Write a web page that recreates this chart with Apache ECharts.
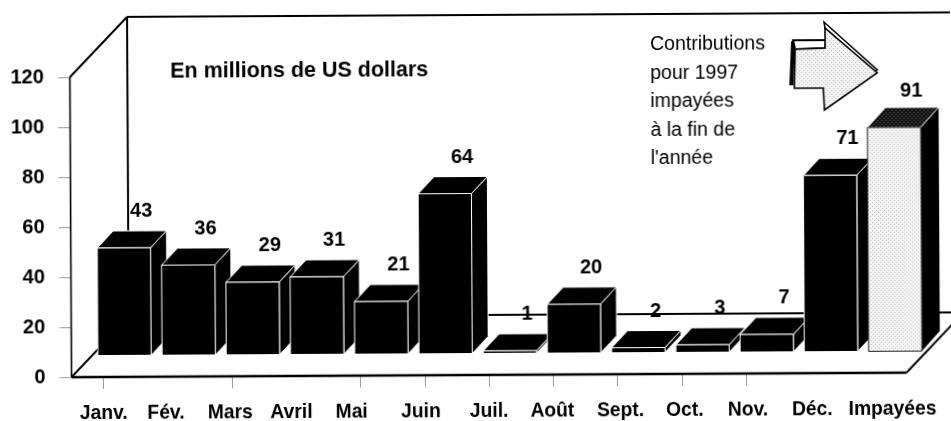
<!DOCTYPE html>
<html><head><meta charset="utf-8">
<style>html,body{margin:0;padding:0;background:#fff;overflow:hidden}
#c{width:951px;height:421px;transform:rotate(-0.31deg);transform-origin:475px 210px}</style>
<script src="https://cdn.jsdelivr.net/npm/echarts@6/dist/echarts.min.js"></script>
</head><body><div id="c"></div>
<script>
const categories=['Janv.','Fév.','Mars','Avril','Mai','Juin','Juil.','Août','Sept.','Oct.','Nov.','Déc.','Impayées'];
const valueLabels=[43,36,29,31,21,64,1,20,2,3,7,71,91];
const barHeights=[43,36,29,31,21,64,1,19.5,2,3,7,70.5,89.5];
const yTicks=[0,20,40,60,80,100,120];
const labelShift=[0,-2,-2,-5,-9,-4,0,-1,3,3,2,2,18];
const visibleTicks=[0,2,4,5,6,7,8,9,10];
const highlighted='Impayées';
const noteLines=['Contributions','pour 1997','impayées','à la fin de',"l'année"];

const FONT='"Liberation Sans",Arial,sans-serif';
function stipple(bg,dot){const c=document.createElement('canvas');c.width=c.height=4;const g=c.getContext('2d');
 g.fillStyle=bg;g.fillRect(0,0,4,4);g.fillStyle=dot;g.fillRect(0,0,1,1);g.fillRect(2,2,1,1);return {image:c,repeat:'repeat'};}
const lightFill=stipple('#f4f4f4','#bdbdbd'), darkFill=stipple('#111','#777');
const WALL=[57.5,-60], PLANE=[21,-21.5];
const poly=(pts,fill,stroke,w)=>({type:'polygon',shape:{points:pts},style:{fill,stroke,lineWidth:w}});
const line=(a,b,w)=>({type:'line',shape:{x1:a[0],y1:a[1],x2:b[0],y2:b[1]},style:{stroke:'#000',lineWidth:w}});

function renderFrame(p,api){
 const band=api.size([1,0])[0];
 const bl=api.coord([0,0]),tl=api.coord([0,120]),br=api.coord([categories.length-1,0]);
 const x0=bl[0]-band/2,x1=br[0]+band/2,y0=bl[1],y1=tl[1];
 const w=(x,y)=>[x+WALL[0],y+WALL[1]];
 return {type:'group',children:[
  line([x0,y0],[x0,y1],1.6),line([x0,y1],w(x0,y1),2),line(w(x0,y1),w(x1,y1),2),line(w(x0,y1),w(x0,y0),2),
  line([x0,y0],w(x0,y0),2),line(w(x0,y0),w(x1,y0),2),line([x1,y0],w(x1,y0),2),line([x0,y0],[x1,y0],2.4)
 ]};
}
function renderBar(p,api){
 const i=api.value(0),v=api.value(1),band=api.size([1,0])[0],bw=band*0.83;
 const b=api.coord([i,0]),t=api.coord([i,v]);
 const l=b[0]+PLANE[0]-bw/2,r=l+bw,by=b[1]+PLANE[1],ty=t[1]+PLANE[1];
 const hi=categories[i]===highlighted,dx=hi?18:16,dy=hi?-20:-17;
 const kids=[
  poly([[r,by],[r+dx,by+dy],[r+dx,ty+dy],[r,ty]],'#000','#fff',hi?0:1),
  poly([[l,ty],[r,ty],[r+dx,ty+dy],[l+dx,ty+dy]],hi?darkFill:'#000','#fff',1),
  poly([[l,by],[r,by],[r,ty],[l,ty]],hi?lightFill:'#000',hi?'#222':'#fff',1),
  {type:'text',x:b[0]+PLANE[0]+17.5,y:ty-36.5,style:{text:String(valueLabels[i]),font:'bold 20px '+FONT,fill:'#000',align:'center',verticalAlign:'middle'},z2:10}
 ];
 return {type:'group',children:kids};
}
const barData=barHeights.map((v,i)=>[i,v]);
const chart=echarts.init(document.getElementById('c'),null,{renderer:'canvas'});
chart.setOption({
 animation:false,backgroundColor:'#fff',
 title:{text:'En millions de US dollars',left:166,top:54,textStyle:{fontFamily:FONT,fontWeight:'bold',fontSize:21.5,color:'#000'}},
 grid:{left:70.6,top:75,width:835,height:300,containLabel:false},
 xAxis:{type:'category',data:categories.map((c,i)=>{const s=labelShift[i];
   return {value:c,textStyle:{padding:[0,Math.max(-2*s,0),0,Math.max(2*s,0)]}};}),
  axisLine:{show:false},
  axisTick:{show:true,alignWithLabel:true,length:12,interval:(i)=>visibleTicks.includes(i),lineStyle:{color:'#999',width:1}},
  axisLabel:{interval:0,hideOverlap:false,margin:27,fontFamily:FONT,fontWeight:'bold',fontSize:19.3,color:'#000'}},
 yAxis:{type:'value',min:0,max:120,interval:20,splitLine:{show:false},axisLine:{show:false},
  axisTick:{show:true,length:12,lineStyle:{color:'#999',width:1}},
  axisLabel:{margin:26,padding:[2,0,0,0],fontFamily:FONT,fontWeight:'bold',fontSize:20,color:'#000',
   formatter:v=>yTicks.includes(v)?String(v):''}},
 series:[
  {type:'custom',coordinateSystem:'cartesian2d',silent:true,clip:false,z:1,data:[[0,0]],renderItem:renderFrame},
  {type:'custom',coordinateSystem:'cartesian2d',silent:true,clip:false,z:2,data:barData,encode:{x:0,y:1},renderItem:renderBar}
 ],
 graphic:[
  {type:'group',z:5,children:[
   ...noteLines.map((t,i)=>({type:'text',x:651,y:[35.5,64.5,93,122,150][i],style:{text:t,font:'19.5px '+FONT,fill:'#000'}})),
   {type:'polyline',shape:{points:[[794,43],[792,87]]},style:{stroke:'#000',lineWidth:4,fill:null}},
   {type:'polygon',shape:{points:[[794,42],[827,42],[826,50],[796,51]]},style:{fill:'#fff',stroke:'#000',lineWidth:2}},
   {type:'polygon',shape:{points:[[825,24],[878,72],[875,74],[826,30]]},style:{fill:'#fff',stroke:'#000',lineWidth:1.5}},
   {type:'polygon',shape:{points:[[796,51],[826,50],[826,30],[878,75],[825,112],[824,90],[795,90]]},style:{fill:lightFill,stroke:'#000',lineWidth:1.6}}
  ]}
 ]
});
</script></body></html>
